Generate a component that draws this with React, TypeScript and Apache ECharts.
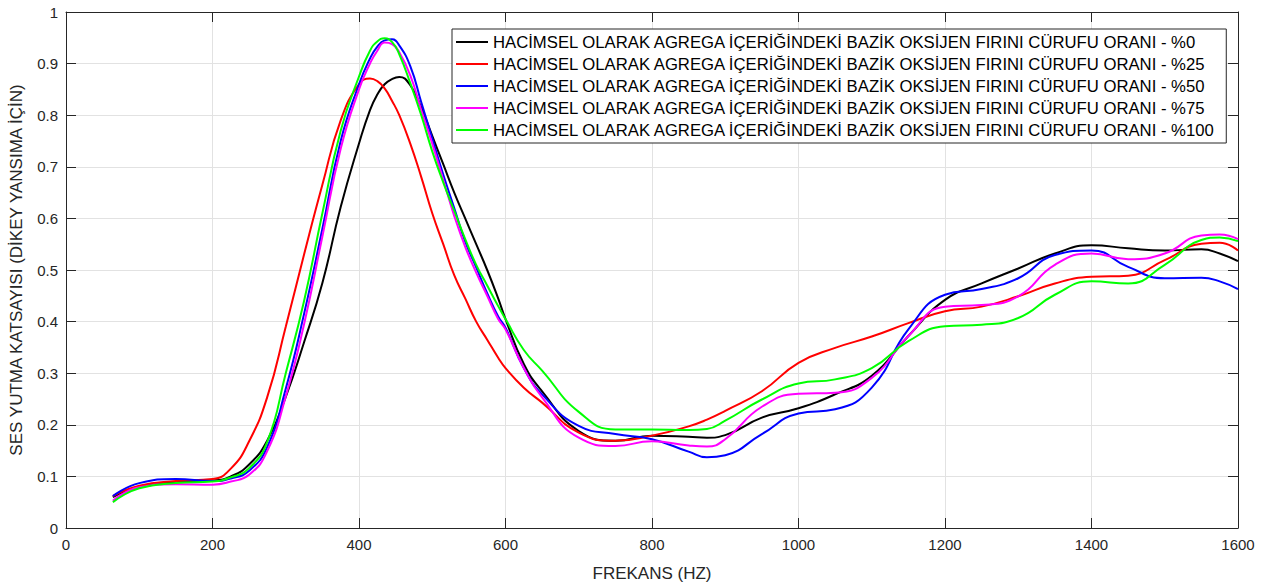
import React, { useEffect, useRef } from "react";
import * as echarts from "echarts";

const FREQ = [64, 100, 150, 200, 225, 250, 275, 300, 325, 350, 375, 400, 415, 425, 435, 445, 455, 470, 485, 500, 515, 530, 545, 560, 575, 590, 600, 625, 650, 700, 750, 800, 850, 875, 900, 950, 1000, 1050, 1100, 1150, 1200, 1250, 1300, 1350, 1400, 1450, 1500, 1550, 1575, 1600];

const P0 = [0.06, 0.08, 0.089, 0.092, 0.1, 0.123, 0.17, 0.254, 0.36, 0.475, 0.622, 0.745, 0.81, 0.84, 0.86, 0.87, 0.874, 0.858, 0.815, 0.76, 0.705, 0.65, 0.6, 0.55, 0.5, 0.445, 0.405, 0.318, 0.265, 0.188, 0.169, 0.179, 0.177, 0.175, 0.18, 0.214, 0.232, 0.259, 0.295, 0.372, 0.442, 0.474, 0.503, 0.532, 0.548, 0.542, 0.538, 0.54, 0.532, 0.517];

const P25 = [0.062, 0.082, 0.091, 0.095, 0.115, 0.168, 0.255, 0.39, 0.53, 0.665, 0.79, 0.86, 0.871, 0.866, 0.852, 0.828, 0.8, 0.745, 0.68, 0.61, 0.55, 0.49, 0.445, 0.4, 0.365, 0.33, 0.31, 0.272, 0.243, 0.185, 0.169, 0.179, 0.197, 0.21, 0.227, 0.265, 0.32, 0.349, 0.371, 0.397, 0.42, 0.429, 0.449, 0.474, 0.487, 0.489, 0.519, 0.551, 0.553, 0.538];

const P50 = [0.062, 0.087, 0.095, 0.091, 0.096, 0.111, 0.158, 0.27, 0.415, 0.58, 0.75, 0.86, 0.91, 0.933, 0.945, 0.947, 0.935, 0.895, 0.825, 0.755, 0.685, 0.62, 0.555, 0.505, 0.455, 0.41, 0.388, 0.31, 0.259, 0.198, 0.182, 0.172, 0.148, 0.137, 0.141, 0.182, 0.222, 0.23, 0.272, 0.385, 0.452, 0.463, 0.484, 0.529, 0.538, 0.506, 0.484, 0.485, 0.478, 0.463];

const P75 = [0.053, 0.079, 0.085, 0.084, 0.09, 0.103, 0.15, 0.255, 0.395, 0.565, 0.735, 0.85, 0.9, 0.925, 0.941, 0.938, 0.922, 0.877, 0.81, 0.745, 0.675, 0.605, 0.545, 0.495, 0.45, 0.405, 0.385, 0.31, 0.253, 0.175, 0.159, 0.168, 0.16, 0.158, 0.172, 0.235, 0.26, 0.262, 0.291, 0.372, 0.429, 0.432, 0.449, 0.51, 0.532, 0.521, 0.532, 0.567, 0.569, 0.56];

const P100 = [0.05, 0.077, 0.087, 0.09, 0.098, 0.116, 0.168, 0.3, 0.44, 0.61, 0.77, 0.875, 0.925, 0.943, 0.949, 0.942, 0.918, 0.862, 0.8, 0.73, 0.67, 0.615, 0.56, 0.51, 0.47, 0.43, 0.405, 0.345, 0.305, 0.225, 0.191, 0.191, 0.19, 0.192, 0.208, 0.249, 0.28, 0.288, 0.31, 0.362, 0.391, 0.394, 0.407, 0.452, 0.478, 0.474, 0.51, 0.558, 0.563, 0.556];

const NAME_BASE = "HACİMSEL OLARAK AGREGA İÇERİĞİNDEKİ BAZİK OKSİJEN FIRINI CÜRUFU ORANI - ";
const SERIES = [
  { name: NAME_BASE + "%0", values: P0, color: "#000000" },
  { name: NAME_BASE + "%25", values: P25, color: "#ff0000" },
  { name: NAME_BASE + "%50", values: P50, color: "#0000ff" },
  { name: NAME_BASE + "%75", values: P75, color: "#ff00ff" },
  { name: NAME_BASE + "%100", values: P100, color: "#00ff00" },
];

const X_TITLE = "FREKANS (HZ)";
const Y_TITLE = "SES YUTMA KATSAYISI (DİKEY YANSIMA İÇİN)";

const FONT = "'Liberation Sans', Arial, Helvetica, sans-serif";
const AXIS_COLOR = "#262626";

export default function App() {
  const ref = useRef<HTMLDivElement>(null);
  useEffect(() => {
    if (!ref.current) return;
    const chart = echarts.init(ref.current, null, { renderer: "svg" });
    const axisCommon = {
      min: 0,
      axisLine: { show: true, onZero: false, lineStyle: { color: AXIS_COLOR, width: 1 } },
      axisTick: { show: true, inside: true, length: 10, lineStyle: { color: AXIS_COLOR, width: 1 } },
    };
    chart.setOption({
      animation: false,
      backgroundColor: "#ffffff",
      textStyle: { fontFamily: FONT },
      grid: { left: 65, right: 30, top: 12, bottom: 56, containLabel: false },
      legend: {
        orient: "vertical",
        left: 452,
        top: 29,
        padding: [4, 10, 4, 4],
        itemGap: 4,
        itemWidth: 32,
        itemHeight: 2,
        icon: "rect",
        backgroundColor: "#ffffff",
        borderColor: AXIS_COLOR,
        borderWidth: 1,
        borderRadius: 0,
        textStyle: { fontSize: 16.7, color: "#000000", fontFamily: FONT, lineHeight: 18 },
        data: SERIES.map((s) => s.name),
      },
      xAxis: [
        {
          ...axisCommon,
          type: "value",
          max: 1600,
          interval: 200,
          position: "bottom",
          name: X_TITLE,
          nameLocation: "middle",
          nameGap: 37,
          nameTextStyle: { fontSize: 17, color: AXIS_COLOR, fontFamily: FONT },
          axisLabel: { fontSize: 15, color: AXIS_COLOR, margin: 9, fontFamily: FONT, formatter: (v: number) => String(v) },
          splitLine: { show: true, lineStyle: { color: "#e2e2e2", width: 1 } },
        },
        {
          ...axisCommon,
          type: "value",
          max: 1600,
          interval: 200,
          position: "top",
          axisLabel: { show: false },
          splitLine: { show: false },
        },
      ],
      yAxis: [
        {
          ...axisCommon,
          type: "value",
          max: 1,
          interval: 0.1,
          position: "left",
          name: Y_TITLE,
          nameLocation: "middle",
          nameGap: 41,
          nameTextStyle: { fontSize: 17, color: AXIS_COLOR, fontFamily: FONT },
          axisLabel: { fontSize: 15, color: AXIS_COLOR, margin: 8, fontFamily: FONT },
          splitLine: { show: true, lineStyle: { color: "#e2e2e2", width: 1 } },
        },
        {
          ...axisCommon,
          type: "value",
          max: 1,
          interval: 0.1,
          position: "right",
          axisLabel: { show: false },
          splitLine: { show: false },
        },
      ],
      series: SERIES.map((s) => ({
        type: "line",
        name: s.name,
        xAxisIndex: 0,
        yAxisIndex: 0,
        data: FREQ.map((f, i) => [f, s.values[i]]),
        smooth: 0.5,
        showSymbol: false,
        symbol: "none",
        itemStyle: { color: s.color },
        lineStyle: { color: s.color, width: 2 },
      })),
    });
    return () => chart.dispose();
  }, []);
  return <div ref={ref} style={{ width: 1268, height: 587, position: "absolute", left: 0, top: 0 }} />;
}
